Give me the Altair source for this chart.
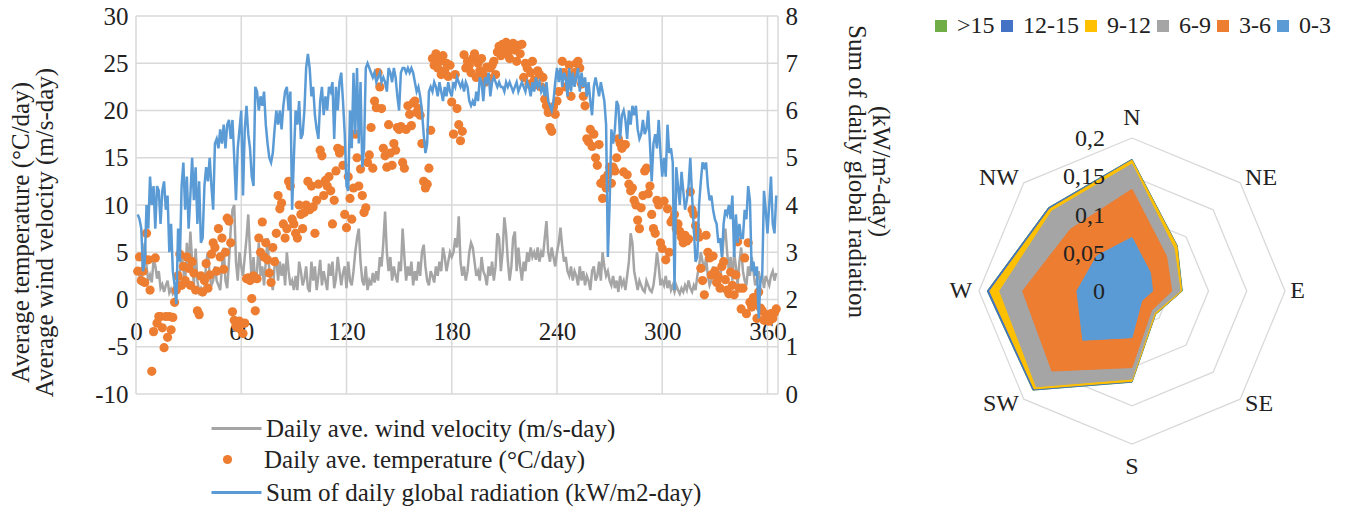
import math
import altair as alt
import pandas as pd

# ---------------- data ----------------
radiation = [
    3.8, 3.7, 3.5, 2.6, 2.8, 4.0, 3.5, 4.6, 4.0, 4.4,
    3.5, 4.4, 4.3, 3.6, 4.3, 4.5, 3.9, 4.2, 3.0, 3.6,
    2.6, 2.3, 1.9, 3.5, 2.8, 4.4, 4.9, 3.9, 4.6, 3.5,
    4.2, 5.0, 4.1, 4.8, 3.6, 4.5, 3.2, 3.3, 4.4, 4.8,
    4.5, 5.0, 4.4, 3.9, 5.3, 5.4, 5.2, 5.6, 5.3, 5.7,
    5.2, 5.7, 5.8, 5.4, 5.8, 5.0, 4.1, 5.2, 5.6, 6.0,
    4.2, 5.6, 6.1, 5.5, 5.2, 4.6, 4.4, 6.5, 6.4, 6.0,
    6.3, 6.1, 6.4, 5.7, 5.3, 5.0, 4.9, 5.1, 5.6, 6.0,
    5.7, 6.0, 5.6, 6.1, 6.4, 6.5, 6.0, 6.4, 3.9, 5.0,
    6.0, 5.7, 6.2, 5.4, 5.5, 6.0, 6.9, 7.2, 6.9, 6.3,
    6.5, 5.9, 5.6, 5.4, 6.2, 6.5, 5.9, 6.3, 6.0, 6.5,
    6.4, 6.6, 5.4, 6.5, 6.0, 6.6, 6.8, 6.2, 5.5, 4.4,
    4.3, 6.0, 5.2, 6.8, 5.5, 6.9, 5.3, 6.6, 4.8, 5.2,
    6.9, 7.0, 6.9, 6.8, 6.7, 6.8, 6.6, 6.7, 6.8, 6.6,
    6.7, 6.6, 6.4, 6.9, 6.8, 6.6, 6.9, 6.7, 6.3, 6.0,
    6.8, 6.9, 6.9, 6.8, 6.9, 6.8, 6.9, 6.8, 6.6, 6.4,
    6.5, 6.3, 6.0, 5.5, 5.1, 5.3, 6.4, 6.5, 6.4, 6.6,
    6.5, 6.3, 6.6, 6.4, 6.2, 6.5, 6.3, 6.6, 6.4, 6.3,
    6.6, 6.5, 6.7, 6.6, 6.5, 6.6, 6.4, 6.6, 6.5, 6.2,
    6.1, 6.2, 6.1, 6.4, 6.2, 6.7, 6.6, 6.2, 6.7, 6.6,
    6.8, 6.3, 6.6, 6.7, 6.6, 6.5, 6.6, 6.5, 6.5, 6.4,
    6.6, 6.5, 6.6, 6.5, 6.4, 6.5, 6.6, 6.4, 6.5, 6.6,
    6.5, 6.4, 6.6, 6.5, 6.3, 6.6, 6.4, 6.7, 6.5, 6.6,
    6.4, 6.5, 6.3, 6.6, 6.2, 6.1, 6.0, 6.2, 6.6, 6.9,
    6.6, 6.9, 6.5, 6.8, 6.7, 6.3, 6.9, 6.4, 6.8, 6.5,
    6.7, 6.9, 6.4, 6.8, 6.5, 6.7, 6.3, 6.6, 6.2, 5.9,
    6.5, 6.7, 6.5, 6.3, 6.6, 6.4, 6.2, 5.7, 2.9, 4.0,
    5.6, 5.3, 5.6, 6.2, 6.1, 5.4, 5.9, 6.0, 5.8, 5.4,
    6.0, 5.7, 6.1, 5.9, 6.1, 5.6, 5.4, 5.5, 5.8, 5.5,
    5.6, 6.0, 5.3, 4.5, 5.3, 5.5, 5.2, 5.8, 5.1, 4.6,
    5.0, 4.6, 5.7, 5.1, 5.2, 4.9, 2.2, 4.8, 4.4, 4.0,
    4.7, 4.3, 3.9, 4.1, 4.4, 5.0, 4.2, 3.5, 2.8, 2.9,
    4.0, 4.5, 4.9, 4.8, 4.9, 4.4, 4.1, 4.2, 3.9, 3.7,
    3.6, 3.2, 3.3, 2.9, 3.6, 3.9, 3.8, 4.0, 3.7, 4.2,
    2.9, 3.8, 3.2, 3.6, 3.3, 3.3, 3.9, 3.7, 4.4, 4.1,
    2.6, 2.8, 2.5, 2.7, 1.6, 2.4, 2.5, 4.3, 3.9, 3.4,
    4.0, 4.6, 3.6, 3.4, 4.2,
]

wind = [
    3.0, 2.5, 1.5, 4.5, 6.0, 3.5, 2.0, 2.6, 1.8, 4.2,
    3.6, 2.2, 3.0, 1.2, 1.6, 0.8, 1.5, 2.0, 0.7, 1.1,
    0.6, 1.0, 0.8, 1.2, 2.8, 5.0, 3.2, 1.5, 6.0, 3.0,
    7.2, 4.0, 1.5, 5.4, 2.0, 0.8, 1.2, 0.6, 1.0, 4.0,
    5.0, 2.5, 1.5, 2.0, 3.5, 2.0, 1.5, 1.0, 3.5, 5.5,
    2.0, 1.2, 4.0, 7.5, 9.5, 10.0, 4.0, 2.0, 5.0, 3.5,
    2.5, 4.5, 6.5, 9.0, 5.0, 2.0, 4.5, 1.8, 3.0, 6.0,
    2.5, 3.5, 1.5, 4.0, 6.5, 3.0, 2.0, 1.0, 3.5, 4.5,
    2.0, 4.0, 2.5, 3.8, 1.5, 5.0, 3.0, 1.5, 2.0, 1.0,
    2.5, 1.0, 4.0, 3.0, 1.5, 2.2, 3.5, 1.2, 0.8, 4.0,
    2.0, 3.5, 1.0, 2.5, 4.2, 1.5, 3.0, 2.0, 1.0, 3.8,
    2.5, 4.0, 1.2, 2.2, 4.5, 3.0, 1.5, 2.8, 3.5, 1.2,
    4.0, 2.0, 1.5, 3.0, 5.0, 6.5, 7.5, 4.0, 2.0, 1.5,
    3.5, 1.0, 2.0, 1.5, 2.8, 1.8, 3.0, 2.0, 4.5, 3.5,
    6.0, 9.3, 5.0, 3.0, 4.5, 2.0, 3.5, 2.5, 1.8, 4.0,
    3.0, 7.5, 4.5, 2.0, 3.5, 2.5, 4.0, 1.5, 3.0, 2.0,
    4.0, 2.5, 5.0, 5.8, 3.5, 2.0, 1.5, 3.0, 2.5, 1.8,
    3.5, 2.5, 4.0, 3.0, 5.5, 4.5, 3.0, 4.0, 5.0, 4.5,
    5.0, 6.5, 5.5, 8.8, 4.0, 2.5, 3.5, 2.0, 3.0, 5.0,
    6.0, 5.5, 4.0, 2.5, 3.0, 2.0, 4.5, 3.0, 2.5, 1.5,
    3.5, 2.5, 4.0, 2.0, 3.5, 7.0, 6.5, 3.0, 5.0, 8.7,
    7.0, 4.0, 2.0, 3.5, 6.5, 7.2, 3.0, 5.5, 3.5, 2.0,
    4.0, 3.0, 5.0, 4.0, 5.5, 4.5, 5.0, 4.2, 5.5, 4.0,
    5.0, 4.5, 6.5, 8.3, 5.0, 4.0, 5.5, 4.5, 3.5, 5.0,
    6.0, 7.6, 5.5, 4.0, 4.5, 3.0, 2.5, 3.5, 2.0, 3.0,
    2.5, 1.5, 3.5, 2.0, 3.0, 1.5, 2.5, 2.0, 1.0, 3.0,
    3.5, 2.0, 2.5, 4.0, 2.0, 5.0, 3.5, 2.5, 3.0, 2.0,
    1.5, 2.5, 1.2, 2.0, 0.8, 2.5, 1.5, 2.0, 1.0, 2.5,
    4.0, 7.0, 6.0, 3.0, 2.0, 1.0, 2.0, 1.5, 1.0, 0.8,
    2.0, 1.5, 1.0, 0.8, 1.5, 3.0, 5.0, 3.5, 1.5, 2.0,
    1.5, 2.5, 1.2, 2.0, 1.0, 1.5, 0.8, 1.5, 1.0, 0.6,
    1.2, 0.8, 1.5, 1.0, 2.0, 1.2, 0.8, 1.5, 1.0, 2.5,
    3.5, 5.0, 4.0, 3.0, 4.5, 2.5, 1.5, 2.0, 3.5, 2.5,
    1.5, 3.0, 2.0, 4.0, 6.5, 7.5, 5.0, 3.0, 4.5, 2.0,
    5.0, 3.5, 1.5, 4.0, 5.5, 3.0, 2.0, 1.5, 3.5, 2.5,
    4.5, 3.0, 1.5, 2.0, 3.0, 1.8, 2.5, 1.2, 2.5, 2.0,
    1.5, 2.5, 3.0, 2.0, 2.8,
]

temperature = [
    3.0, 4.5, 2.0, 3.0, 1.8, 7.0, 4.2, 1.0, -7.6, -3.4,
    4.4, -2.5, -1.8, -1.8, -3.0, -5.1, -1.8, -4.0, -1.8, -3.2,
    -1.9, -0.3, 1.0, 2.5, 4.8, 1.5, 3.5, 2.0, 4.5, 3.3,
    1.5, 4.0, 2.8, 1.0, -1.2, -1.6, 2.5, 0.8, 2.0, 3.8,
    1.2, 2.6, 4.8, 6.0, 5.5, 3.0, 7.5, 4.5, 6.5, 3.2,
    5.0, 8.6, 8.3, 6.0, -1.3, -2.2, -2.8, -3.0, -2.3, -2.6,
    -3.6, -2.5, 2.2, 2.3, 2.0, 0.1, 2.5, -1.2, 2.2, 6.5,
    5.0, 8.2, 4.5, 6.0, 4.2, 2.8, 1.8, 5.5, 4.0, 7.0,
    11.0, 9.6, 10.2, 8.0, 6.5, 7.5, 12.5, 12.0, 8.5, 8.0,
    7.0, 6.5, 10.0, 9.0, 7.5, 9.2, 10.0, 12.5, 9.5, 12.0,
    9.8, 7.0, 10.5, 12.2, 15.8, 15.2, 11.0, 12.6, 12.0, 13.0,
    11.5, 8.0, 10.5, 13.6, 16.0, 15.5, 15.8, 14.2, 9.0, 7.6,
    13.0, 10.7, 8.5, 11.8, 17.5, 15.0, 12.0, 13.8, 11.0, 9.2,
    9.7, 14.5, 15.3, 18.2, 13.9, 21.0, 20.3, 24.0, 22.5, 20.2,
    16.0, 15.2, 14.0, 18.5, 15.5, 14.2, 16.5, 15.8, 18.2, 18.0,
    18.3, 14.5, 13.9, 18.0, 20.5, 19.6, 18.4, 20.8, 21.0, 19.8,
    20.2, 19.5, 16.5, 12.5, 11.8, 12.2, 13.9, 17.9, 25.5, 24.8,
    26.0, 24.5, 25.2, 23.8, 25.8, 24.2, 25.0, 23.6, 24.8, 20.9,
    17.5, 23.8, 20.2, 18.5, 16.8, 17.8, 25.9, 24.5, 25.2, 24.8,
    24.0, 25.5, 26.0, 23.5, 25.0, 24.2, 25.5, 23.8, 23.0, 24.6,
    23.4, 24.5, 24.8, 25.2, 23.8, 26.2, 26.8, 25.8, 27.0, 26.5,
    27.2, 26.0, 25.5, 26.8, 27.1, 26.4, 25.2, 26.9, 26.0, 27.0,
    23.5, 25.0, 24.5, 22.8, 24.0, 25.2, 23.2, 22.7, 24.2, 23.8,
    22.5, 23.5, 21.2, 20.5, 19.8, 18.2, 17.8, 20.4, 19.6, 21.0,
    22.0, 23.8, 25.2, 24.0, 22.5, 23.6, 24.8, 21.5, 23.2, 24.0,
    25.0, 25.2, 24.5, 22.8, 21.5, 20.5, 17.0, 16.7, 18.0, 16.2,
    17.5, 15.0, 14.2, 16.4, 12.3, 10.7, 12.8, 11.8, 13.2, 14.0,
    12.3, 14.0, 13.6, 15.0, 17.0, 16.5, 16.0, 13.5, 16.4, 13.2,
    12.2, 11.5, 11.8, 10.5, 10.0, 8.4, 7.5, 9.7, 11.0, 13.6,
    13.9, 11.2, 12.0, 9.0, 7.5, 7.0, 10.5, 10.0, 6.0, 5.4,
    10.4, 4.2, 9.6, 5.0, 8.2, 8.5, 9.0, 7.5, 8.0, 7.2,
    6.6, 6.0, 6.8, 6.2, 6.4, 11.4, 9.5, 9.0, 7.8, 7.2,
    6.6, 3.3, 2.0, 0.5, 6.8, 5.0, 4.4, 2.6, 4.6, 3.0,
    1.8, 2.4, 1.2, 3.5, 4.0, 2.1, 1.0, 0.6, 2.9, 1.5,
    0.5, 2.6, 6.1, 1.2, -1.0, 1.2, 4.4, -1.5, 6.0, -0.3,
    -0.8, 0.2, -0.5, -2.0, 0.8, -0.9, -1.2, -2.2, -1.6, -1.8,
    -2.3, -1.5, -2.0, -1.4, -1.0,
]

days = list(range(1, len(radiation) + 1))
x_ticks = [0, 60, 120, 180, 240, 300, 360]
x_grid = [0, 60, 120, 180, 240, 300, 360, 366]
left_ticks = [-10, -5, 0, 5, 10, 15, 20, 25, 30]
right_ticks = [0, 1, 2, 3, 4, 5, 6, 7, 8]

WIND_LABEL = "Daily ave. wind velocity (m/s-day)"
TEMP_LABEL = "Daily ave. temperature (°C/day)"
RAD_LABEL = "Sum of daily global radiation (kW/m2-day)"

# wind rose (frequency per direction for each speed class)
directions = ["N", "NE", "E", "SE", "S", "SW", "W", "NW"]
dir_angle = [0, 45, 90, 135, 180, 225, 270, 315]
speed_bins = ["0-3", "3-6", "6-9", "9-12", "12-15", ">15"]
freq_0_3 = [0.070, 0.034, 0.027, 0.018, 0.061, 0.091, 0.072, 0.065]
freq_3_6 = [0.063, 0.030, 0.025, 0.018, 0.039, 0.057, 0.071, 0.049]
freq_6_9 = [0.033, 0.014, 0.011, 0.005, 0.015, 0.029, 0.030, 0.034]
freq_9_12 = [0.005, 0.005, 0.002, 0.002, 0.003, 0.004, 0.013, 0.004]
freq_12_15 = [0.001, 0.0005, 0.0005, 0.0003, 0.001, 0.002, 0.003, 0.002]
freq_gt15 = [0.0003, 0.0003, 0.0003, 0.0003, 0.0003, 0.0003, 0.0003, 0.0003]
ring_values = [0.05, 0.10, 0.15, 0.20]
ring_label_values = [0, 0.05, 0.10, 0.15, 0.20]
ring_labels = ["0", "0,05", "0,1", "0,15", "0,2"]
legend_order = [">15", "12-15", "9-12", "6-9", "3-6", "0-3"]

# ---------------- style / layout ----------------
FONT = "Liberation Serif"
TXT = "#222222"
GRID = "#d9d9d9"
C_WIND, C_TEMP, C_RAD = "#a5a5a5", "#ed7d31", "#5b9bd5"
bin_colors = {"0-3": "#5b9bd5", "3-6": "#ed7d31", "6-9": "#a5a5a5",
              "9-12": "#ffc000", "12-15": "#4472c4", ">15": "#70ad47"}
FS = 25
PAD_L, PAD_T = 128, 8
W, H = 1212, 494            # full drawing area (autosize none)
TS_W, TS_H = 642, 378       # time-series plot area
RC_X, RC_Y, R_PX = 996, 275, 153   # wind-rose centre and 0.2 radius (px)

n = min(len(radiation), len(wind), len(temperature))
df = pd.DataFrame({"day": days[:n], "rad": radiation[:n], "wind": wind[:n],
                   "temp": temperature[:n]})
df["s_wind"] = WIND_LABEL
df["s_temp"] = TEMP_LABEL
df["s_rad"] = RAD_LABEL

x_sc = alt.Scale(domain=[0, 366], range=[0, TS_W], nice=False, zero=False)
yl_sc = alt.Scale(domain=[-10, 30], range=[TS_H, 0], nice=False, zero=False)
yr_sc = alt.Scale(domain=[0, 8], range=[TS_H, 0], nice=False, zero=False)
rx_sc = alt.Scale(domain=[-0.2, 0.2], range=[RC_X - R_PX, RC_X + R_PX],
                  nice=False, zero=False)
ry_sc = alt.Scale(domain=[-0.2, 0.2], range=[RC_Y + R_PX, RC_Y - R_PX],
                  nice=False, zero=False)

y_zero_px = TS_H * 30 / 40
x_axis = alt.Axis(values=x_ticks, grid=False, domain=False, ticks=False,
                  offset=-(H - y_zero_px), labelFont=FONT, labelFontSize=FS,
                  labelColor=TXT, labelPadding=20, labelFlush=False, title=None)
yl_axis = alt.Axis(values=left_ticks, grid=False, domain=False, ticks=False,
                   labelFont=FONT, labelFontSize=FS, labelColor=TXT,
                   labelPadding=8, labelExpr="'' + datum.value",
                   title=["Average temperature (°C/day)",
                          "Average wind velocity (m/s-day)"],
                   titleFont=FONT, titleFontSize=FS, titleFontWeight="normal",
                   titleColor=TXT, titlePadding=37, titleLineHeight=24,
                   titleY=216)
yr_axis = alt.Axis(orient="right", offset=-(W - TS_W), values=right_ticks,
                   grid=False, domain=False, ticks=False, labelFont=FONT,
                   labelFontSize=FS, labelColor=TXT, labelPadding=7,
                   title=["(kW/m²-day)", "Sum of daily global radiation"],
                   titleFont=FONT, titleFontSize=FS, titleFontWeight="normal",
                   titleColor=TXT, titlePadding=46, titleLineHeight=24,
                   titleY=155)


def line_legend(x, y, offset, stype, ssize):
    return alt.Legend(orient="none", legendX=x, legendY=y, title=None,
                      symbolType=stype, symbolSize=ssize, symbolStrokeWidth=3,
                      labelFont=FONT, labelFontSize=FS, labelColor=TXT,
                      labelOffset=offset, labelLimit=0, padding=0)


# grid lines
hgrid = alt.Chart(pd.DataFrame({"v": left_ticks})).mark_rule(
    color=GRID, strokeWidth=1.5).encode(
    y=alt.Y("v:Q", scale=yl_sc, axis=None),
    x=alt.X(datum=0, type="quantitative", scale=x_sc, axis=None),
    x2=alt.datum(366))
vgrid = alt.Chart(pd.DataFrame({"day": x_grid})).mark_rule(
    color=GRID, strokeWidth=1.5).encode(
    x=alt.X("day:Q", scale=x_sc, axis=None),
    y=alt.Y(datum=-10, type="quantitative", scale=yl_sc, axis=None),
    y2=alt.datum(30))

wind_line = alt.Chart(df).mark_line(strokeWidth=2.5).encode(
    x=alt.X("day:Q", scale=x_sc, axis=x_axis),
    y=alt.Y("wind:Q", scale=yl_sc, axis=None),
    color=alt.Color("s_wind:N", scale=alt.Scale(domain=[WIND_LABEL], range=[C_WIND]),
                    legend=line_legend(74, 386, 3, "stroke", 2500)),
)

temp_pts = alt.Chart(df).mark_circle(size=85, opacity=1).encode(
    x=alt.X("day:Q", scale=x_sc, axis=None),
    y=alt.Y("temp:Q", scale=yl_sc, axis=yl_axis),
    color=alt.Color("s_temp:N", scale=alt.Scale(domain=[TEMP_LABEL], range=[C_TEMP]),
                    legend=line_legend(79, 431, 24, "circle", 85)),
)

rad_line = alt.Chart(df).mark_line(strokeWidth=2.5).encode(
    x=alt.X("day:Q", scale=x_sc, axis=None),
    y=alt.Y("rad:Q", scale=yr_sc, axis=yr_axis),
    color=alt.Color("s_rad:N", scale=alt.Scale(domain=[RAD_LABEL], range=[C_RAD]),
                    legend=line_legend(74, 450, 3, "stroke", 2500)),
)

# ---------------- wind rose ----------------
freqs = [freq_0_3, freq_3_6, freq_6_9, freq_9_12, freq_12_15, freq_gt15]
cum = {}
running = [0.0] * 8
for b, f in zip(speed_bins, freqs):
    running = [r + v for r, v in zip(running, f)]
    cum[b] = list(running)


def polygon(radii):
    rows = []
    for i in range(9):
        k = i % 8
        a = math.radians(dir_angle[k])
        rows.append({"i": i, "x": radii[k] * math.sin(a), "y": radii[k] * math.cos(a)})
    return rows


RX = lambda f: alt.X(f, type="quantitative", scale=rx_sc, axis=None)
RY = lambda f: alt.Y(f, type="quantitative", scale=ry_sc, axis=None)

ring_rows = []
for rv in ring_values:
    for row in polygon([rv] * 8):
        row["ring"] = rv
        ring_rows.append(row)
rings = alt.Chart(pd.DataFrame(ring_rows)).mark_line(
    stroke=GRID, strokeWidth=1.3).encode(
    x=RX("x"), y=RY("y"), detail="ring:N", order="i:Q")

legend_layer = alt.Chart(pd.DataFrame({"bin": legend_order})).mark_square(
    size=144, opacity=1).encode(
    x=alt.X(datum=0, type="quantitative", scale=rx_sc, axis=None),
    y=alt.Y(datum=0, type="quantitative", scale=ry_sc, axis=None),
    color=alt.Color("bin:N", scale=alt.Scale(domain=legend_order,
                                             range=[bin_colors[b] for b in legend_order]),
                    legend=alt.Legend(orient="none", legendX=793, legendY=-2,
                                      direction="horizontal", title=None,
                                      symbolType="square", symbolSize=144,
                                      symbolStrokeWidth=0, labelFont=FONT,
                                      labelFontSize=24, labelColor=TXT,
                                      labelOffset=4, columnPadding=0, padding=0,
                                      labelLimit=0)),
)

poly_layers = []
for b in reversed(speed_bins):
    c = bin_colors[b]
    poly_layers.append(
        alt.Chart(pd.DataFrame(polygon(cum[b]))).mark_line(
            fill=c, stroke=c, strokeWidth=1, strokeJoin="miter").encode(
            x=RX("x"), y=RY("y"), order="i:Q"))

# direction label placement (style)
lab_r = {"N": 0.226, "NE": 0.209, "E": 0.207, "SE": 0.209,
         "S": 0.230, "SW": 0.209, "W": 0.209, "NW": 0.209}
lab_align = {"N": "center", "NE": "left", "E": "left", "SE": "left",
             "S": "center", "SW": "right", "W": "right", "NW": "right"}
dir_rows = []
for d, ang in zip(directions, dir_angle):
    a = math.radians(ang)
    dir_rows.append({"d": d, "x": lab_r[d] * math.sin(a), "y": lab_r[d] * math.cos(a)})
dir_df = pd.DataFrame(dir_rows)
dir_layers = []
for al in ["center", "left", "right"]:
    sub = dir_df[dir_df["d"].map(lab_align) == al]
    dir_layers.append(alt.Chart(sub).mark_text(
        font=FONT, fontSize=24, color=TXT, align=al, baseline="middle").encode(
        x=RX("x"), y=RY("y"), text="d:N"))

ring_text = alt.Chart(pd.DataFrame({"v": ring_label_values, "t": ring_labels,
                                    "x": [0.0] * 5})).mark_text(
    font=FONT, fontSize=24, color=TXT, align="right", baseline="middle",
    dx=-27, dy=1).encode(x=RX("x"), y=RY("v"), text="t:N")

chart = alt.layer(
    hgrid, vgrid, wind_line, temp_pts, rad_line,
    legend_layer, rings, *poly_layers, *dir_layers, ring_text,
).resolve_scale(
    x="independent", y="independent", color="independent"
).properties(
    width=W, height=H,
    autosize=alt.AutoSizeParams(type="none"),
    padding={"left": PAD_L, "top": PAD_T, "right": 0, "bottom": 0},
).configure_view(stroke=None)

chart.save("out.html", embed_options={"renderer": "svg", "actions": False})
